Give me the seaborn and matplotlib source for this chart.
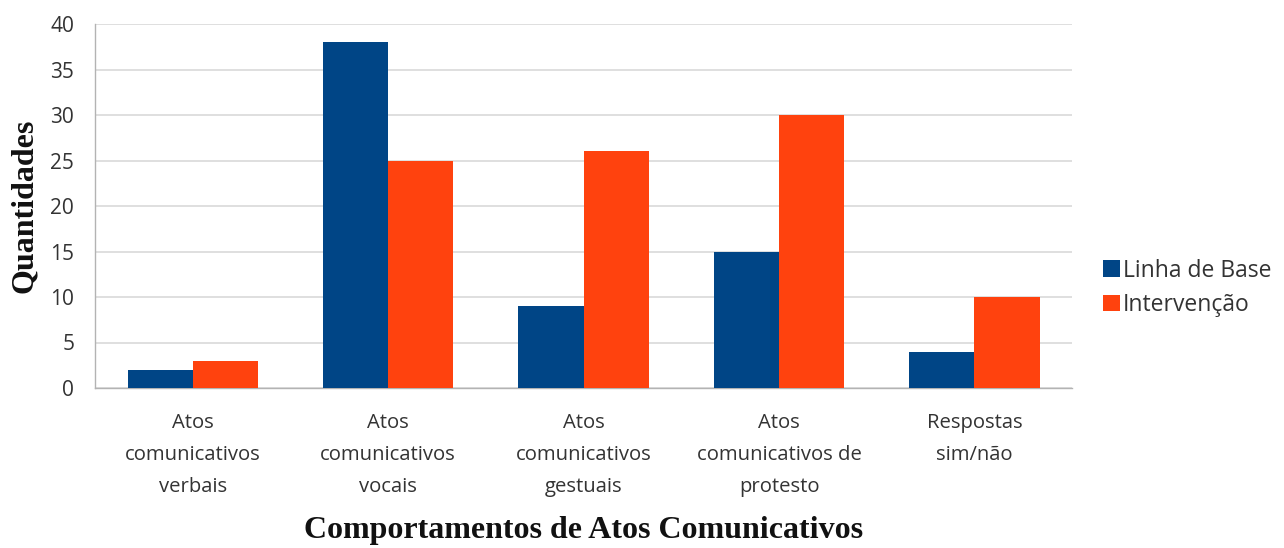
import matplotlib
matplotlib.use("Agg")
import matplotlib.pyplot as plt
import seaborn as sns
import pandas as pd

categories = [
    "Atos\ncomunicativos\nverbais",
    "Atos\ncomunicativos\nvocais",
    "Atos\ncomunicativos\ngestuais",
    "Atos\ncomunicativos de\nprotesto",
    "Respostas\nsim/não",
]
linha_de_base = [2, 38, 9, 15, 4]
intervencao = [3, 25, 26, 30, 10]
series_names = ["Linha de Base", "Intervenção"]
palette = ["#004586", "#ff420e"]

df = pd.DataFrame({
    "categoria": categories * 2,
    "serie": [series_names[0]] * len(categories) + [series_names[1]] * len(categories),
    "valor": linha_de_base + intervencao,
})

sns.set_theme(style="white")
plt.rcParams["font.family"] = ["Open Sans", "DejaVu Sans"]

fig = plt.figure(figsize=(12.84, 5.48), dpi=100)
ax = fig.add_axes([0.074, 0.292, 0.761, 0.664])

sns.barplot(data=df, x="categoria", y="valor", hue="serie", palette=palette,
            width=0.667, saturation=1, linewidth=0, ax=ax, errorbar=None,
            zorder=3)

ax.set_ylim(0, 40)
ax.set_xlim(-0.5, len(categories) - 0.5)
ax.set_yticks(range(0, 41, 5))
ax.yaxis.grid(True, color="#d9d9d9", linewidth=1.2, zorder=0)
ax.tick_params(axis="y", length=12, color="#d9d9d9", labelsize=15,
               labelcolor="#333333", pad=3)

# category separators on the x axis
ax.set_xticks([i - 0.5 for i in range(len(categories) + 1)], minor=True)
ax.tick_params(axis="x", which="minor", length=8, color="#b3b3b3", width=1)
ax.tick_params(axis="x", which="major", length=0, labelsize=14.6,
               labelcolor="#333333", pad=18)
for lbl in ax.get_xticklabels():
    lbl.set_linespacing(1.8)

for side in ["top", "right"]:
    ax.spines[side].set_visible(False)
for side in ["left", "bottom"]:
    ax.spines[side].set_color("#b3b3b3")
    ax.spines[side].set_linewidth(1)

ax.set_ylabel("Quantidades", family="Liberation Serif", fontweight="bold",
              fontsize=23, color="#111111", labelpad=8)
ax.set_xlabel("Comportamentos de Atos Comunicativos", family="Liberation Serif",
              fontweight="bold", fontsize=23, color="#111111", labelpad=14)

leg = ax.legend(loc="center left", bbox_to_anchor=(1.01, 0.275), frameon=False,
                fontsize=16.5, handlelength=0.75, handleheight=0.75,
                handletextpad=0.15, labelspacing=0.45)
for t in leg.get_texts():
    t.set_color("#333333")

fig.savefig("out.png", dpi=100)
